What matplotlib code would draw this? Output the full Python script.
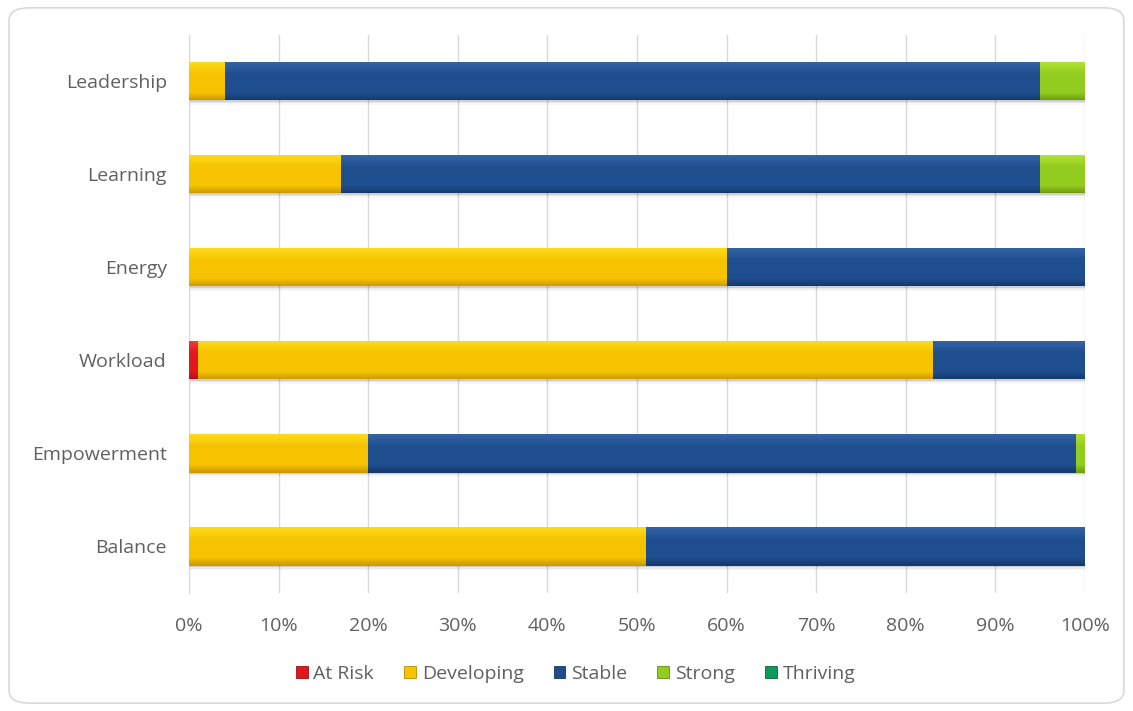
import matplotlib
matplotlib.use('Agg')
import matplotlib.pyplot as plt
from matplotlib.patches import FancyBboxPatch, Patch
import numpy as np

# categories, bottom row first
categories = ['Balance', 'Empowerment', 'Workload', 'Energy', 'Learning', 'Leadership']
levels = ['At Risk', 'Developing', 'Stable', 'Strong', 'Thriving']

# share of responses (%) per level, same order as categories
at_risk    = [0, 0, 1, 0, 0, 0]
developing = [51, 20, 82, 60, 17, 4]
stable     = [49, 79, 17, 40, 78, 91]
strong     = [0, 1, 0, 0, 5, 5]
thriving   = [0, 0, 0, 0, 0, 0]

series = [at_risk, developing, stable, strong, thriving]

# base, highlight (top edge), shade (bottom edge)
palette = {
    'At Risk':    ('#E3161E', '#FF4A4F', '#9E0C11'),
    'Developing': ('#F7C200', '#FFEA2A', '#B98C00'),
    'Stable':     ('#1F4E8F', '#4170B3', '#12325E'),
    'Strong':     ('#92CC1E', '#C2F044', '#628C10'),
    'Thriving':   ('#0E9A5C', '#35C282', '#086339'),
}

plt.rcParams['font.family'] = ['Open Sans', 'DejaVu Sans']

fig = plt.figure(figsize=(11.33, 7.11), dpi=100)
border = FancyBboxPatch((0.008, 0.011), 0.984, 0.978,
                        boxstyle='round,pad=0,rounding_size=0.018',
                        transform=fig.transFigure, facecolor='white',
                        edgecolor='#D9D9D9', linewidth=1.2, zorder=-10)
fig.patches.append(border)

ax = fig.add_axes([0.1668, 0.166, 0.7908, 0.785])
ax.set_facecolor('none')

y = np.arange(len(categories))
h = 0.41
left = np.zeros(len(categories))
n_strips = 8

for name, vals in zip(levels, series):
    vals = np.array(vals, dtype=float)
    base, light, dark = palette[name]
    # soft drop shadow under each segment
    for k, a in enumerate([0.10, 0.06, 0.03]):
        ax.barh(y - 0.02 - 0.012 * k, vals, height=h, left=left, color='#000000',
                alpha=a, linewidth=0, zorder=2)
    ax.barh(y, vals, height=h, left=left, color=base, linewidth=0, zorder=3)
    # bevel: highlight fading down from the top edge, shade rising from the bottom
    sh = h * 0.3 / n_strips
    for k in range(n_strips):
        a = 0.6 * (1 - k / n_strips)
        ax.barh(y + h / 2 - sh * (k + 0.5), vals, height=sh, left=left,
                color=light, alpha=a, linewidth=0, zorder=4)
    bh = h * 0.2 / n_strips
    for k in range(n_strips):
        a = 0.75 * (1 - k / n_strips)
        ax.barh(y - h / 2 + bh * (k + 0.5), vals, height=bh, left=left,
                color=dark, alpha=a, linewidth=0, zorder=4)
    left += vals

ax.set_xlim(0, 100)
ax.set_ylim(-0.5, len(categories) - 0.5)
ax.set_xticks(np.arange(0, 101, 10))
ax.set_xticklabels([f'{t}%' for t in range(0, 101, 10)])
ax.set_yticks(y)
ax.set_yticklabels(categories)
ax.xaxis.grid(True, color='#D9D9D9', linewidth=1.0, zorder=0)
ax.set_axisbelow(True)
for s in ax.spines.values():
    s.set_visible(False)
ax.spines['left'].set_visible(True)
ax.spines['left'].set_color('#D9D9D9')
ax.tick_params(axis='both', length=0, labelsize=14, labelcolor='#606060')
ax.tick_params(axis='x', pad=17)
ax.tick_params(axis='y', pad=16)

handles = [Patch(facecolor=palette[n][0], edgecolor=palette[n][2], linewidth=0.6)
           for n in levels]
fig.legend(handles, levels, loc='center', bbox_to_anchor=(0.508, 0.052), ncol=5,
           frameon=False, fontsize=14, labelcolor='#606060', handlelength=0.6,
           handleheight=0.6, handletextpad=0.3, columnspacing=1.55)

fig.savefig('out.png', dpi=100)
